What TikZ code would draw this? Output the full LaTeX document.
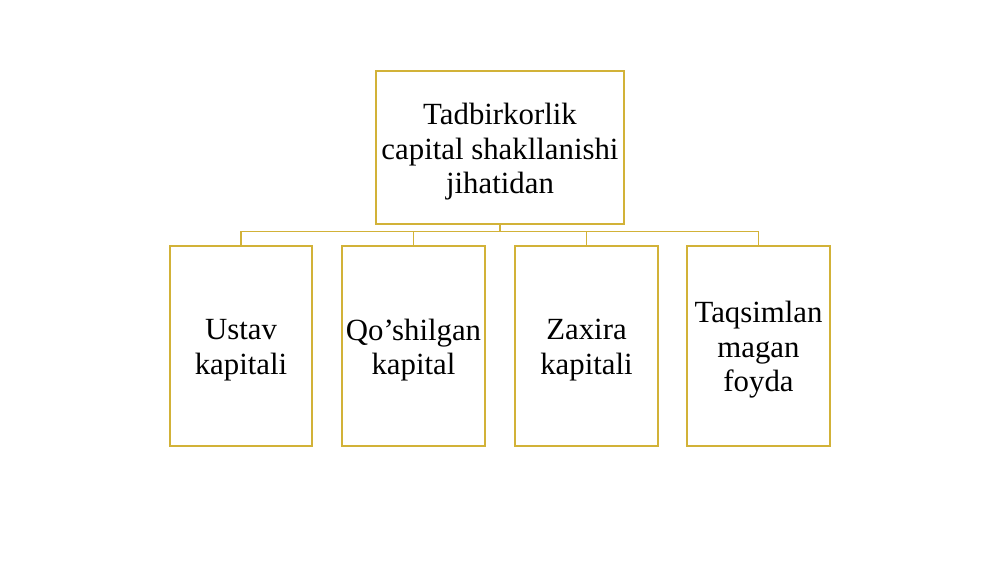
\documentclass[tikz,border=0pt]{standalone}
\usepackage{fontspec}
\setmainfont{Liberation Serif}
\definecolor{gold}{RGB}{210,178,56}
\begin{document}
\begin{tikzpicture}[x=0.3mm,y=-0.3mm,
  box/.style={draw=gold,line width=1pt,fill=white,inner sep=0pt},
  txt/.style={align=center,inner sep=0pt,font=\fontsize{26.3}{29.5}\selectfont},
  conn/.style={draw=gold,line width=1pt}]
\useasboundingbox[fill=white] (0,0) rectangle (1000,562);
\node[box,minimum width=248*0.3mm,minimum height=153*0.3mm] (top) at (500,147.5) {};
\node[box,minimum width=142*0.3mm,minimum height=200*0.3mm] (c1) at (241,346) {};
\node[box,minimum width=143*0.3mm,minimum height=200*0.3mm] (c2) at (413.5,346) {};
\node[box,minimum width=143*0.3mm,minimum height=200*0.3mm] (c3) at (586.5,346) {};
\node[box,minimum width=143*0.3mm,minimum height=200*0.3mm] (c4) at (758.5,346) {};
\node[txt] (topt) at (500,152) {Tadbirkorlik\\capital shakllanishi\\jihatidan};
\node[txt] (c1t) at (241,350) {Ustav\\kapitali};
\node[txt] (c2t) at (413.5,350) {Qo’shilgan\\kapital};
\node[txt] (c3t) at (586.5,350) {Zaxira\\kapitali};
\node[txt] (c4t) at (758.5,350) {Taqsimlan\\magan\\foyda};
\coordinate (bus) at (500,231.5);
\draw[conn] (top.south) -- (bus);
\foreach \c in {c1,c2,c3,c4}{
  \draw[conn] (bus) -| (\c.north);
}
\end{tikzpicture}
\end{document}
